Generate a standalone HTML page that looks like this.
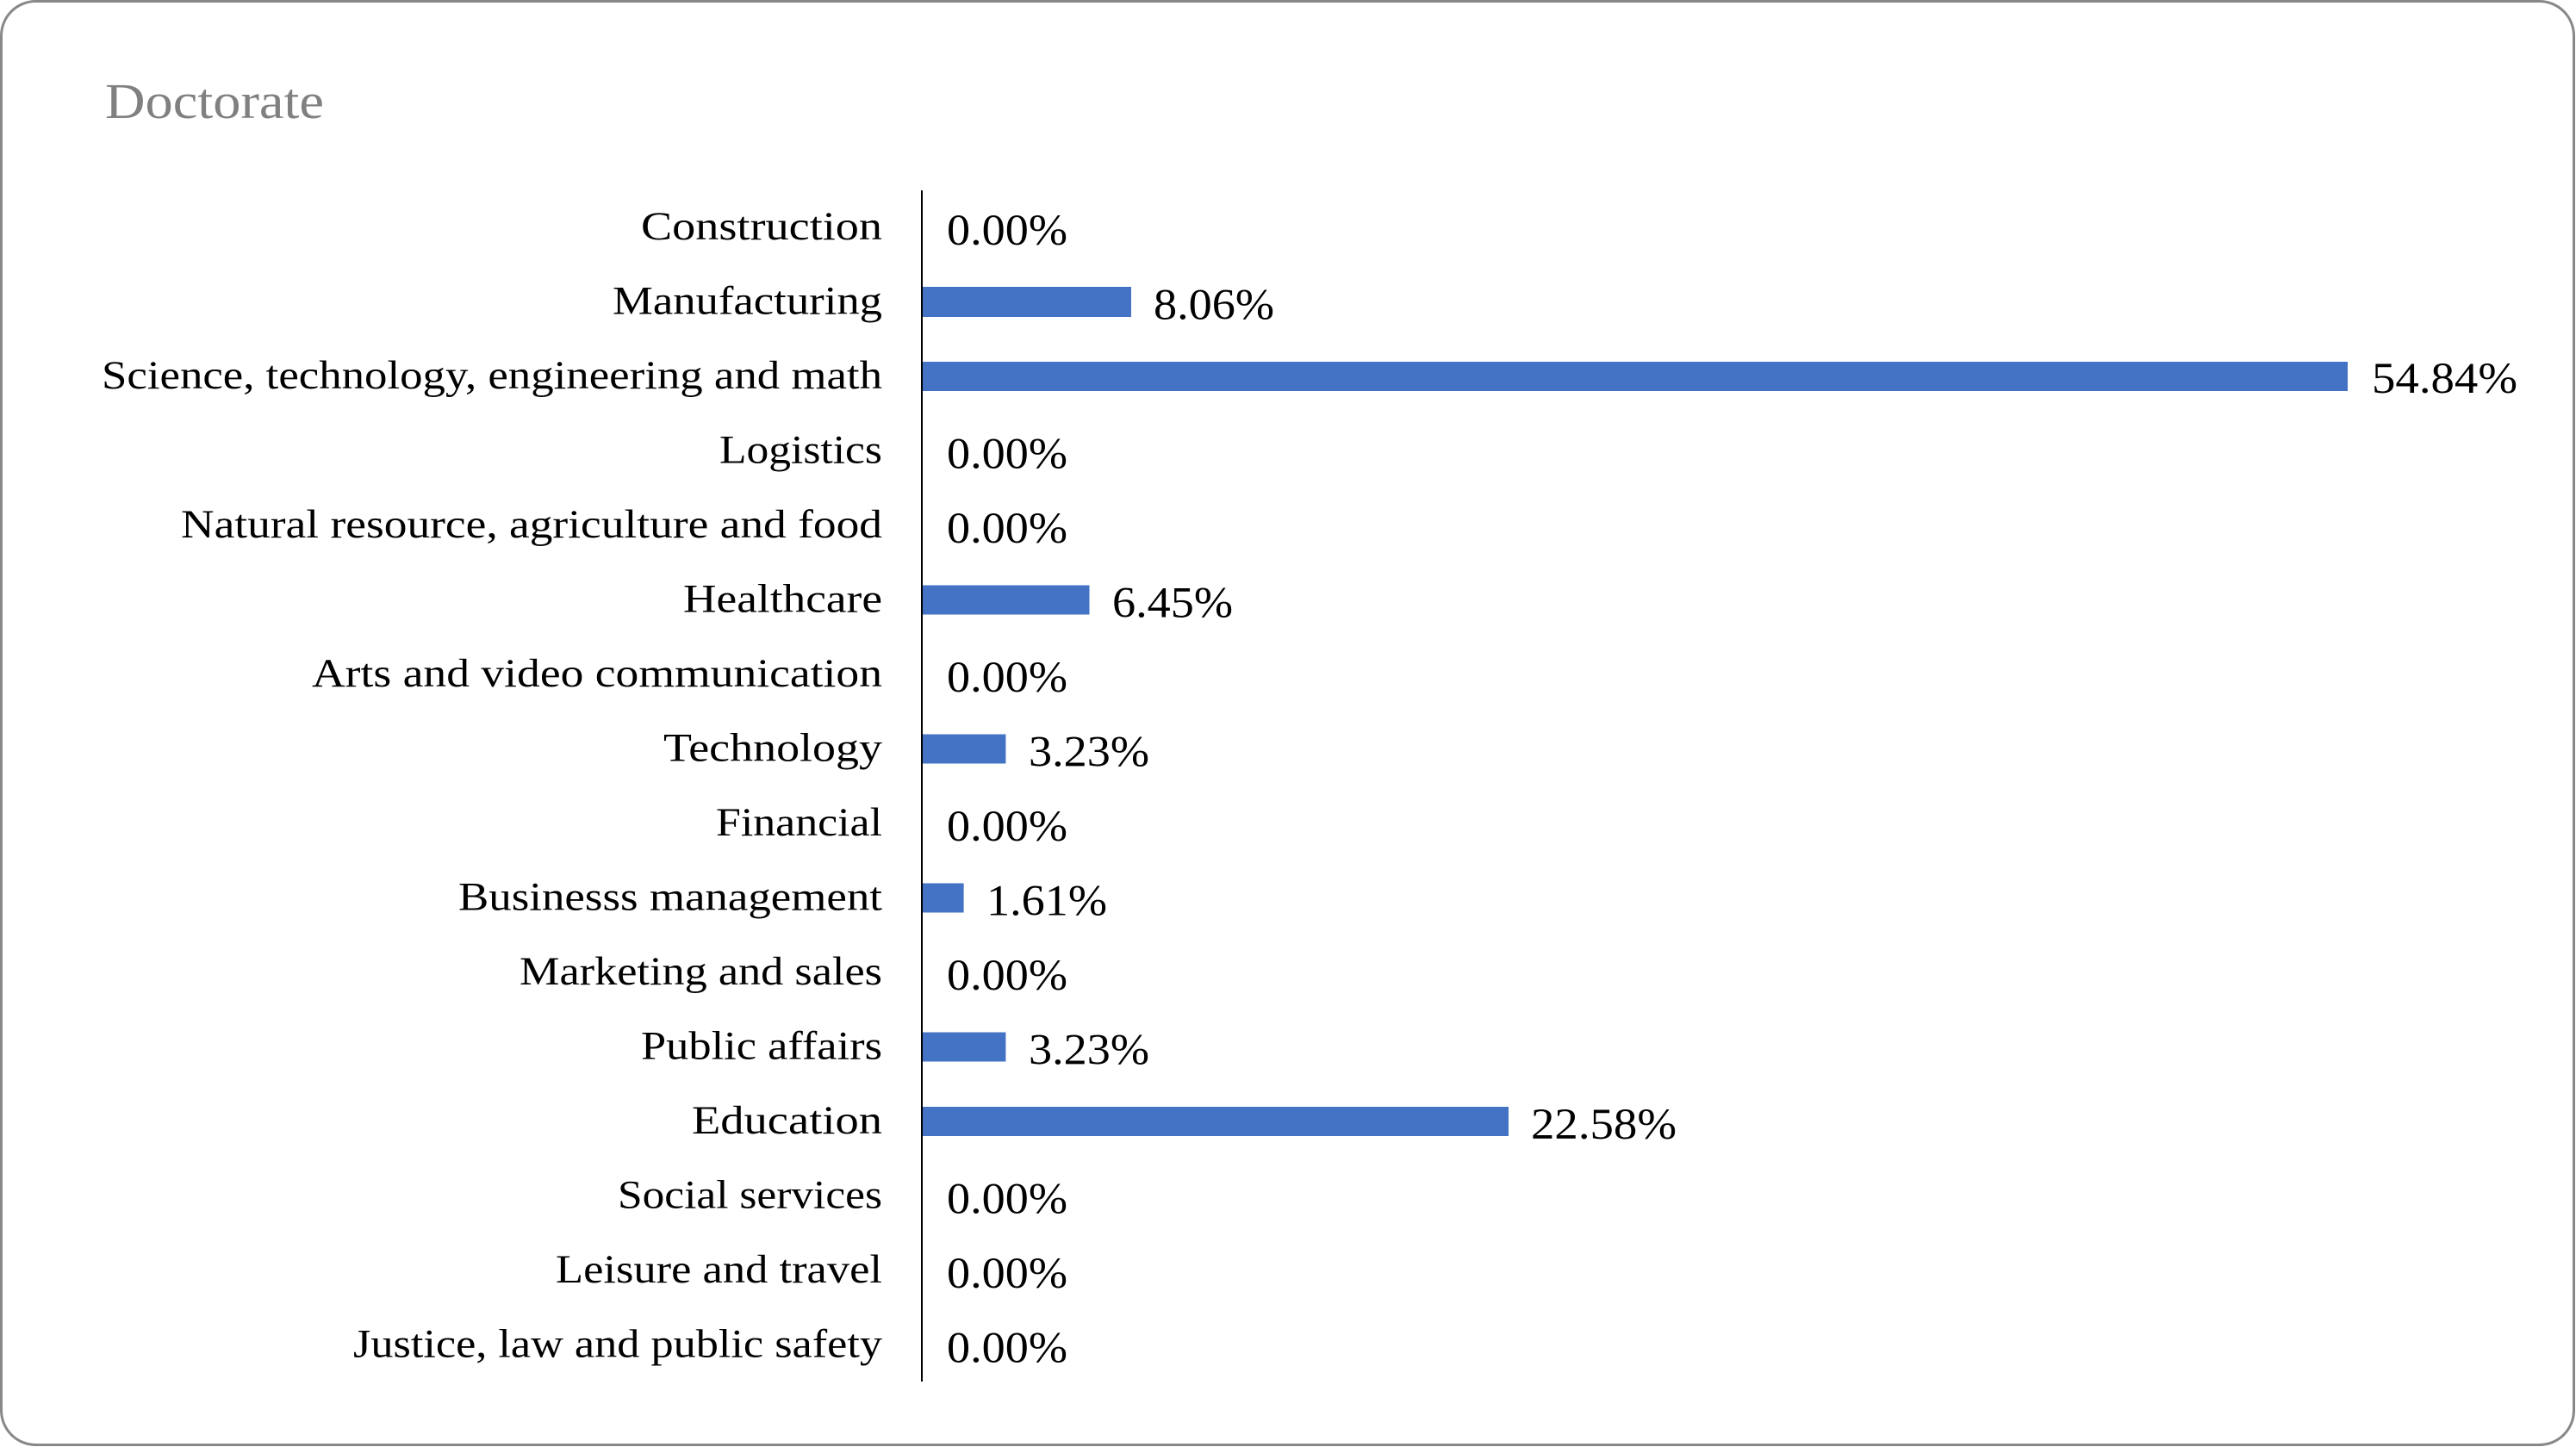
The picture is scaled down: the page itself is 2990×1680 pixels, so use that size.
<!DOCTYPE html>
<html><head><meta charset="utf-8"><style>
html,body{margin:0;padding:0;background:#fff;}
svg{display:block;}
text{font-family:"Liberation Serif",serif;}
</style></head><body>
<svg width="2990" height="1680" viewBox="0 0 2990 1680" xmlns="http://www.w3.org/2000/svg">
<rect x="1.5" y="1.5" width="2986" height="1676" rx="40" ry="40" fill="#fff" stroke="#888" stroke-width="3"/>
<text x="122" y="137" font-size="58" fill="#808080" textLength="254" lengthAdjust="spacingAndGlyphs">Doctorate</text>
<g font-size="47" fill="#000" text-anchor="end">
<text x="1024" y="278" textLength="280" lengthAdjust="spacingAndGlyphs">Construction</text>
<text x="1024" y="364.5" textLength="313" lengthAdjust="spacingAndGlyphs">Manufacturing</text>
<text x="1024" y="451" textLength="906" lengthAdjust="spacingAndGlyphs">Science, technology, engineering and math</text>
<text x="1024" y="537.5" textLength="189" lengthAdjust="spacingAndGlyphs">Logistics</text>
<text x="1024" y="624" textLength="814" lengthAdjust="spacingAndGlyphs">Natural resource, agriculture and food</text>
<text x="1024" y="710.5" textLength="231" lengthAdjust="spacingAndGlyphs">Healthcare</text>
<text x="1024" y="797" textLength="662" lengthAdjust="spacingAndGlyphs">Arts and video communication</text>
<text x="1024" y="883.5" textLength="254" lengthAdjust="spacingAndGlyphs">Technology</text>
<text x="1024" y="970" textLength="193" lengthAdjust="spacingAndGlyphs">Financial</text>
<text x="1024" y="1056.5" textLength="492" lengthAdjust="spacingAndGlyphs">Businesss management</text>
<text x="1024" y="1143" textLength="421" lengthAdjust="spacingAndGlyphs">Marketing and sales</text>
<text x="1024" y="1229.5" textLength="280" lengthAdjust="spacingAndGlyphs">Public affairs</text>
<text x="1024" y="1316" textLength="221" lengthAdjust="spacingAndGlyphs">Education</text>
<text x="1024" y="1402.5" textLength="307" lengthAdjust="spacingAndGlyphs">Social services</text>
<text x="1024" y="1489" textLength="379" lengthAdjust="spacingAndGlyphs">Leisure and travel</text>
<text x="1024" y="1575.5" textLength="614" lengthAdjust="spacingAndGlyphs">Justice, law and public safety</text>
</g>
<g fill="#4472C4">
<rect x="1070" y="333" width="243" height="35"/>
<rect x="1070" y="420" width="1655" height="34"/>
<rect x="1070" y="679.5" width="194.5" height="34"/>
<rect x="1070" y="852.5" width="97.4" height="34"/>
<rect x="1070" y="1025.5" width="48.6" height="34"/>
<rect x="1070" y="1198.5" width="97.4" height="34"/>
<rect x="1070" y="1285" width="681" height="34"/>
</g>
<line x1="1070" y1="221" x2="1070" y2="1604" stroke="#000" stroke-width="2"/>
<g font-size="51" fill="#000">
<text x="1099" y="284" textLength="140" lengthAdjust="spacingAndGlyphs">0.00%</text>
<text x="1339" y="370.5" textLength="140" lengthAdjust="spacingAndGlyphs">8.06%</text>
<text x="2753" y="456" textLength="169" lengthAdjust="spacingAndGlyphs">54.84%</text>
<text x="1099" y="543.5" textLength="140" lengthAdjust="spacingAndGlyphs">0.00%</text>
<text x="1099" y="630" textLength="140" lengthAdjust="spacingAndGlyphs">0.00%</text>
<text x="1291" y="716.5" textLength="140" lengthAdjust="spacingAndGlyphs">6.45%</text>
<text x="1099" y="803" textLength="140" lengthAdjust="spacingAndGlyphs">0.00%</text>
<text x="1194" y="889.5" textLength="140" lengthAdjust="spacingAndGlyphs">3.23%</text>
<text x="1099" y="976" textLength="140" lengthAdjust="spacingAndGlyphs">0.00%</text>
<text x="1145" y="1062.5" textLength="140" lengthAdjust="spacingAndGlyphs">1.61%</text>
<text x="1099" y="1149" textLength="140" lengthAdjust="spacingAndGlyphs">0.00%</text>
<text x="1194" y="1235.5" textLength="140" lengthAdjust="spacingAndGlyphs">3.23%</text>
<text x="1777" y="1322" textLength="169" lengthAdjust="spacingAndGlyphs">22.58%</text>
<text x="1099" y="1408.5" textLength="140" lengthAdjust="spacingAndGlyphs">0.00%</text>
<text x="1099" y="1495" textLength="140" lengthAdjust="spacingAndGlyphs">0.00%</text>
<text x="1099" y="1581.5" textLength="140" lengthAdjust="spacingAndGlyphs">0.00%</text>
</g>
</svg>
</body></html>
